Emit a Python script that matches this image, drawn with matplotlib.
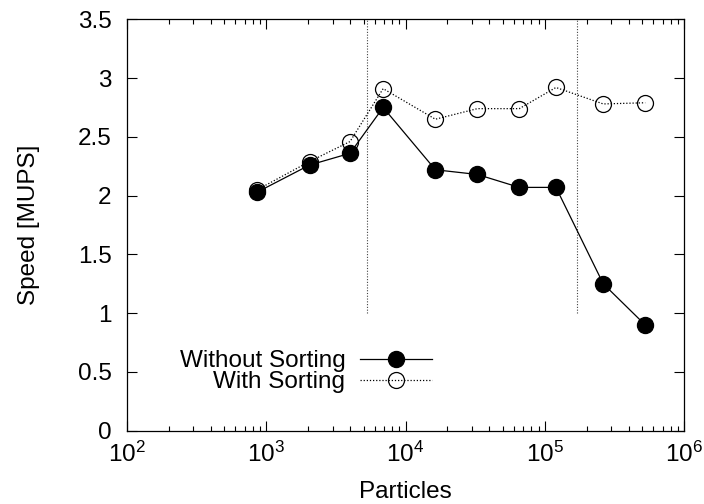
import numpy as np
import matplotlib
matplotlib.use("Agg")
import matplotlib.pyplot as plt
from matplotlib.ticker import LogLocator, LogFormatterMathtext, NullFormatter

plt.rcParams['font.family'] = ['Liberation Sans', 'DejaVu Sans']
plt.rcParams['mathtext.fontset'] = 'custom'
plt.rcParams['mathtext.rm'] = 'Liberation Sans'

# data
particles = [864, 2048, 4000, 6912, 16384, 32768, 65536, 120000, 262144, 524288]
speed_unsorted = [2.03, 2.26, 2.36, 2.75, 2.22, 2.18, 2.07, 2.07, 1.25, 0.90]
speed_sorted = [2.05, 2.29, 2.46, 2.91, 2.65, 2.74, 2.74, 2.92, 2.78, 2.79]
cache_limits = [5300, 170000]
yticks = [0, 0.5, 1, 1.5, 2, 2.5, 3, 3.5]
ytick_labels = ['0', '0.5', '1', '1.5', '2', '2.5', '3', '3.5']

fs = 17.5

fig = plt.figure(figsize=(7.04, 5.04), dpi=100)
ax = fig.add_axes([0.180, 0.1454, 0.792, 0.8163])

ax.vlines(cache_limits, 1.0, 3.5, colors='#444444', linestyles=(0, (1, 1.5)), linewidth=0.8)

ax.plot(particles, speed_unsorted, color='black', linewidth=0.9, marker='o',
        markersize=11.5, markerfacecolor='black', markeredgecolor='black',
        label='Without Sorting')
ax.plot(particles, speed_sorted, color='black', linewidth=0.9, linestyle=(0, (1, 1.5)),
        marker='o', markersize=11.5, markerfacecolor='none', markeredgecolor='black',
        markeredgewidth=0.9, label='With Sorting')

ax.set_xscale('log')
ax.set_xlim(1e2, 1e6)
ax.set_ylim(0, 3.5)
ax.xaxis.set_major_locator(LogLocator(base=10, numticks=10))
ax.xaxis.set_major_formatter(LogFormatterMathtext())
ax.xaxis.set_minor_locator(LogLocator(base=10, subs=np.arange(2, 10), numticks=20))
ax.xaxis.set_minor_formatter(NullFormatter())
ax.set_yticks(yticks)
ax.set_yticklabels(ytick_labels)

ax.tick_params(which='both', direction='in', top=True, right=True, labelsize=fs, width=0.8)
ax.tick_params(which='major', length=7)
ax.tick_params(which='minor', length=3.5)
ax.tick_params(axis='y', pad=11)
ax.tick_params(axis='x', pad=8)
for s in ax.spines.values():
    s.set_linewidth(0.9)

ax.set_xlabel('Particles', fontsize=fs, labelpad=10)
ax.set_ylabel('Speed [MUPS]', fontsize=fs, labelpad=27)

ax.legend(loc='center right', bbox_to_anchor=(0.548, 0.143), frameon=False,
          markerfirst=False, handlelength=2.96, fontsize=fs, labelspacing=-0.05,
          handletextpad=0.62, borderpad=0, borderaxespad=0)

fig.savefig('out.png', dpi=100)
